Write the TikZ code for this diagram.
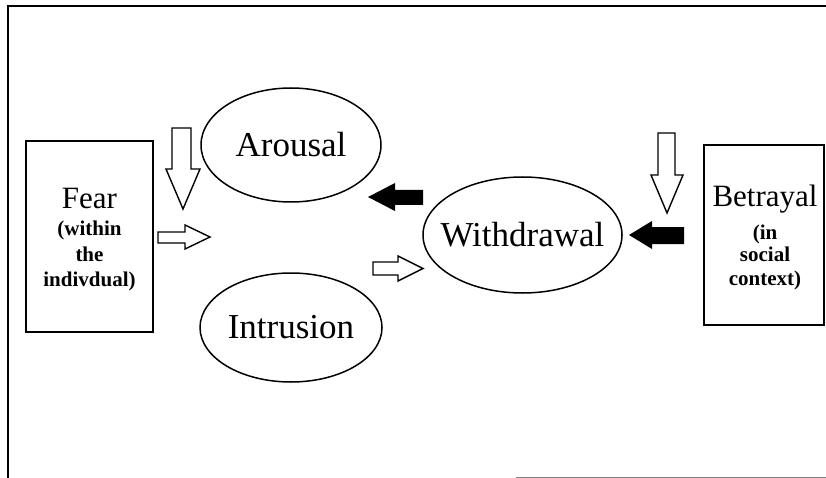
\documentclass[tikz,border=0pt]{standalone}
\usepackage{fontspec}
\setmainfont{Liberation Serif}
\usetikzlibrary{shapes.geometric}

\tikzset{
  oval/.style={ellipse,draw,line width=1.5pt,inner sep=0pt},
  panel/.style={rectangle,draw,line width=1.5pt,inner sep=0pt},
  hollow/.style={draw,line width=1.4pt,fill=white,line join=miter},
  big/.style={font=\fontsize{35}{40}\selectfont,inner sep=0pt},
  mid/.style={font=\fontsize{31}{36}\selectfont,inner sep=0pt},
  small/.style={font=\bfseries\fontsize{21}{25}\selectfont,inner sep=0pt}
}

\begin{document}
\begin{tikzpicture}[x=1pt,y=-1pt]
  \useasboundingbox (0,0) rectangle (826,478);
  % frame
  \draw[line width=1.8pt] (8,478) -- (8,6) -- (826,6);
  \draw[line width=1pt,gray] (516,477) -- (826,477);

  % side boxes
  \node[panel,minimum width=127pt,minimum height=191pt] (fear) at (89.5,236.5) {};
  \node[mid,anchor=base] (fearT) at (89.5,208) {Fear};
  \node[small,anchor=base] (fearA) at (89.5,236) {(within};
  \node[small,anchor=base] (fearB) at (89.5,261) {the};
  \node[small,anchor=base] (fearC) at (89.5,286) {indivdual)};

  \node[panel,minimum width=120pt,minimum height=180pt] (betrayal) at (764,235) {};
  \node[mid,anchor=base] (betrT) at (765,207) {Betrayal};
  \node[small,anchor=base] (betrA) at (765,239) {(in};
  \node[small,anchor=base] (betrB) at (765,261) {social};
  \node[small,anchor=base] (betrC) at (765,285) {context)};

  % ovals
  \node[oval,minimum width=180pt,minimum height=114pt] (arousal) at (291,145) {};
  \node[big] (arousalT) at (arousal.center) {Arousal};
  \node[oval,minimum width=182pt,minimum height=109pt] (intrusion) at (291,327.5) {};
  \node[big] (intrusionT) at (intrusion.center) {Intrusion};
  \node[oval,minimum width=199pt,minimum height=116pt] (withdrawal) at (522.5,235) {};
  \node[big] (withdrawalT) at (withdrawal.center) {Withdrawal};

  % hollow arrows
  \draw[hollow] (172,128) -- (191,128) -- (191,169) -- (200,169) -- (183,209) -- (166,169) -- (172,169) -- cycle;
  \draw[hollow] (658,133) -- (675,133) -- (675,175) -- (683,175) -- (667,213) -- (651,175) -- (658,175) -- cycle;
  \draw[hollow] (158,232) -- (185,232) -- (185,225) -- (210,237) -- (185,249) -- (185,243) -- (158,243) -- cycle;
  \draw[hollow] (373,262) -- (398,262) -- (398,256) -- (423,268.5) -- (398,281) -- (398,275) -- (373,275) -- cycle;

  % black arrows
  \fill (423,190) -- (395,190) -- (395,183) -- (368,197) -- (395,211) -- (395,205) -- (423,205) -- cycle;
  \fill (684,227) -- (652,227) -- (652,221) -- (629,235) -- (652,249) -- (652,244) -- (684,244) -- cycle;
\end{tikzpicture}
\end{document}
